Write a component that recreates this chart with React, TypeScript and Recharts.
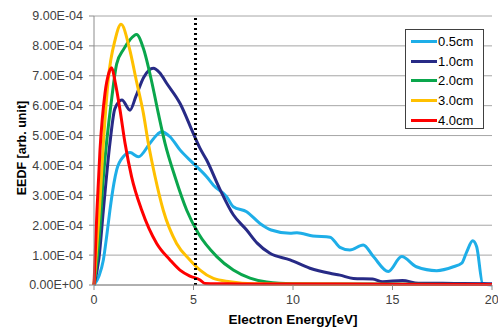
import {CartesianGrid, Line, LineChart, ReferenceLine, XAxis, YAxis} from 'recharts';

// EEDF values in units of 1e-4 (arb. unit), x in eV
const d05: [number, number][] = [
  [0, 0], [0.25, 0.3], [0.47, 0.84], [0.65, 1.7], [0.8, 2.5], [1.0, 3.4], [1.14, 3.85], [1.47, 4.29],
  [1.81, 4.43], [2.23, 4.29], [2.81, 4.74], [3.2, 5.05], [3.4, 5.13], [3.82, 4.96], [4.32, 4.52],
  [4.99, 4.07], [5.66, 3.62], [6.0, 3.34], [6.67, 2.95], [7.0, 2.62], [7.67, 2.45], [8.34, 2.06],
  [8.9, 1.84], [9.85, 1.73], [10.2, 1.75], [11.0, 1.64], [11.86, 1.6], [12.36, 1.26], [12.86, 1.17],
  [13.53, 1.34], [14.04, 0.95], [14.79, 0.45], [15.46, 0.95], [16.2, 0.61], [17.22, 0.48],
  [18.06, 0.61], [18.48, 0.73], [18.73, 1.11], [19.03, 1.48], [19.23, 1.28], [19.53, 0.05], [20, 0],
];
const d10: [number, number][] = [
  [0, 0], [0.25, 0.9], [0.47, 2.5], [0.8, 4.74], [1.05, 5.9], [1.4, 6.19], [1.81, 5.85], [2.1, 6.3],
  [2.5, 6.95], [2.98, 7.25], [3.3, 7.1], [3.65, 6.75], [4.32, 6.08], [4.99, 5.07], [5.33, 4.57],
  [5.66, 4.18], [6.33, 3.2], [7.0, 2.35], [7.67, 1.84], [8.2, 1.4], [8.84, 1.06], [9.85, 0.84],
  [10.85, 0.56], [11.86, 0.39], [12.36, 0.33], [13.03, 0.22], [14.0, 0.2], [14.5, 0.11], [15.5, 0.15],
  [16.3, 0.06], [17.5, 0.06], [18.5, 0.05], [20, 0.04],
];
const d20: [number, number][] = [
  [0, 0], [0.25, 1.5], [0.47, 3.6], [0.89, 6.24], [1.14, 7.4], [1.5, 7.9], [1.8, 8.2], [2.14, 8.38],
  [2.48, 7.92], [2.9, 6.8], [3.23, 5.75], [3.57, 4.74], [4.07, 3.62], [4.66, 2.5], [5.24, 1.73],
  [6.17, 0.95], [7.0, 0.5], [7.84, 0.23], [8.68, 0.1], [10, 0.04], [12, 0.03], [15, 0.03], [20, 0.02],
];
const d30: [number, number][] = [
  [0, 0], [0.27, 2.5], [0.47, 4.74], [0.72, 6.9], [1.06, 8.2], [1.36, 8.72], [1.78, 7.92], [2.14, 6.8],
  [2.48, 5.75], [2.73, 4.74], [3.07, 3.62], [3.48, 2.5], [4.15, 1.39], [4.82, 0.84], [5.33, 0.5],
  [6.0, 0.22], [6.83, 0.11], [8, 0.04], [10, 0.03], [15, 0.02], [20, 0.02],
];
const d40: [number, number][] = [
  [0, 0], [0.15, 2.5], [0.3, 4.5], [0.55, 6.4], [0.75, 7.1], [0.89, 7.27], [1.06, 6.8], [1.31, 5.85],
  [1.56, 4.74], [1.89, 3.62], [2.4, 2.5], [3.15, 1.39], [3.82, 0.84], [4.32, 0.5], [4.82, 0.3],
  [5.33, 0.17], [5.58, 0.05], [6.5, 0.04], [8, 0.03], [12, 0.03], [20, 0.02],
];

const seriesNames = ['0.5cm', '1.0cm', '2.0cm', '3.0cm', '4.0cm'];
const seriesData = [d05, d10, d20, d30, d40];
const colors = ['#1eaee8', '#272a86', '#0aa64c', '#ffc000', '#ff0000'];
const yTicks = [0, 1, 2, 3, 4, 5, 6, 7, 8, 9];
const xTicks = [0, 5, 10, 15, 20];
const markerX = 5.1;

const fmt = (v: number) => {
  const [m, e] = (v * 1e-4).toExponential(2).split('e');
  const sign = e.startsWith('-') ? '-' : '+';
  const digits = e.replace(/[+-]/, '').padStart(2, '0');
  return `${m}E${sign}${digits}`;
};

const FONT = '"Liberation Sans", Arial, sans-serif';

export default function App() {
  return (
    <div style={{position: 'absolute', left: 0, top: 0, width: 498, height: 329, background: '#fff', fontFamily: FONT}}>
      <LineChart width={498} height={329} margin={{top: 16, right: 6, bottom: 0, left: 0}}>
        <CartesianGrid vertical={false} stroke="#a6a6a6" />
        <XAxis
          dataKey="x"
          type="number"
          domain={[0, 20]}
          ticks={xTicks}
          height={44}
          stroke="#8c8c8c"
          tickSize={5}
          tickMargin={5}
          tick={{fill: '#404040', fontSize: 12.5, fontFamily: FONT}}
          allowDuplicatedCategory={false}
        />
        <YAxis
          type="number"
          domain={[0, 9]}
          ticks={yTicks}
          width={94}
          stroke="#8c8c8c"
          tickSize={5}
          tickMargin={6}
          tickFormatter={fmt}
          tick={{fill: '#404040', fontSize: 12.5, fontFamily: FONT}}
        />
        {seriesData.map((s, i) => (
          <Line
            key={seriesNames[i]}
            data={s.map(([x, y]) => ({x, y}))}
            dataKey="y"
            name={seriesNames[i]}
            type="monotone"
            stroke={colors[i]}
            strokeWidth={3}
            dot={false}
            isAnimationActive={false}
          />
        ))}
        <ReferenceLine x={markerX} stroke="#000" strokeWidth={3} strokeDasharray="2 3" />
      </LineChart>
      <div style={{position: 'absolute', left: 4, top: 148, transform: 'translate(-50%, -50%) rotate(-90deg)', marginLeft: 18, whiteSpace: 'nowrap', fontWeight: 'bold', fontSize: 12.5, color: '#000'}}>
        EEDF [arb. unit]
      </div>
      <div style={{position: 'absolute', left: 293, top: 319, transform: 'translate(-50%, -50%)', whiteSpace: 'nowrap', fontWeight: 'bold', fontSize: 13.5, color: '#000'}}>
        Electron Energy[eV]
      </div>
      <div style={{position: 'absolute', left: 405, top: 29, width: 72, height: 96, border: '1px solid #404040', background: '#fff', padding: '2px 0 0 5px', boxSizing: 'content-box'}}>
        {seriesNames.map((n, i) => (
          <div key={n} style={{display: 'flex', alignItems: 'center', height: 19.6, fontSize: 13, color: '#000'}}>
            <span style={{display: 'inline-block', width: 26, height: 3, background: colors[i], marginRight: 1}} />
            <span>{n}</span>
          </div>
        ))}
      </div>
    </div>
  );
}
